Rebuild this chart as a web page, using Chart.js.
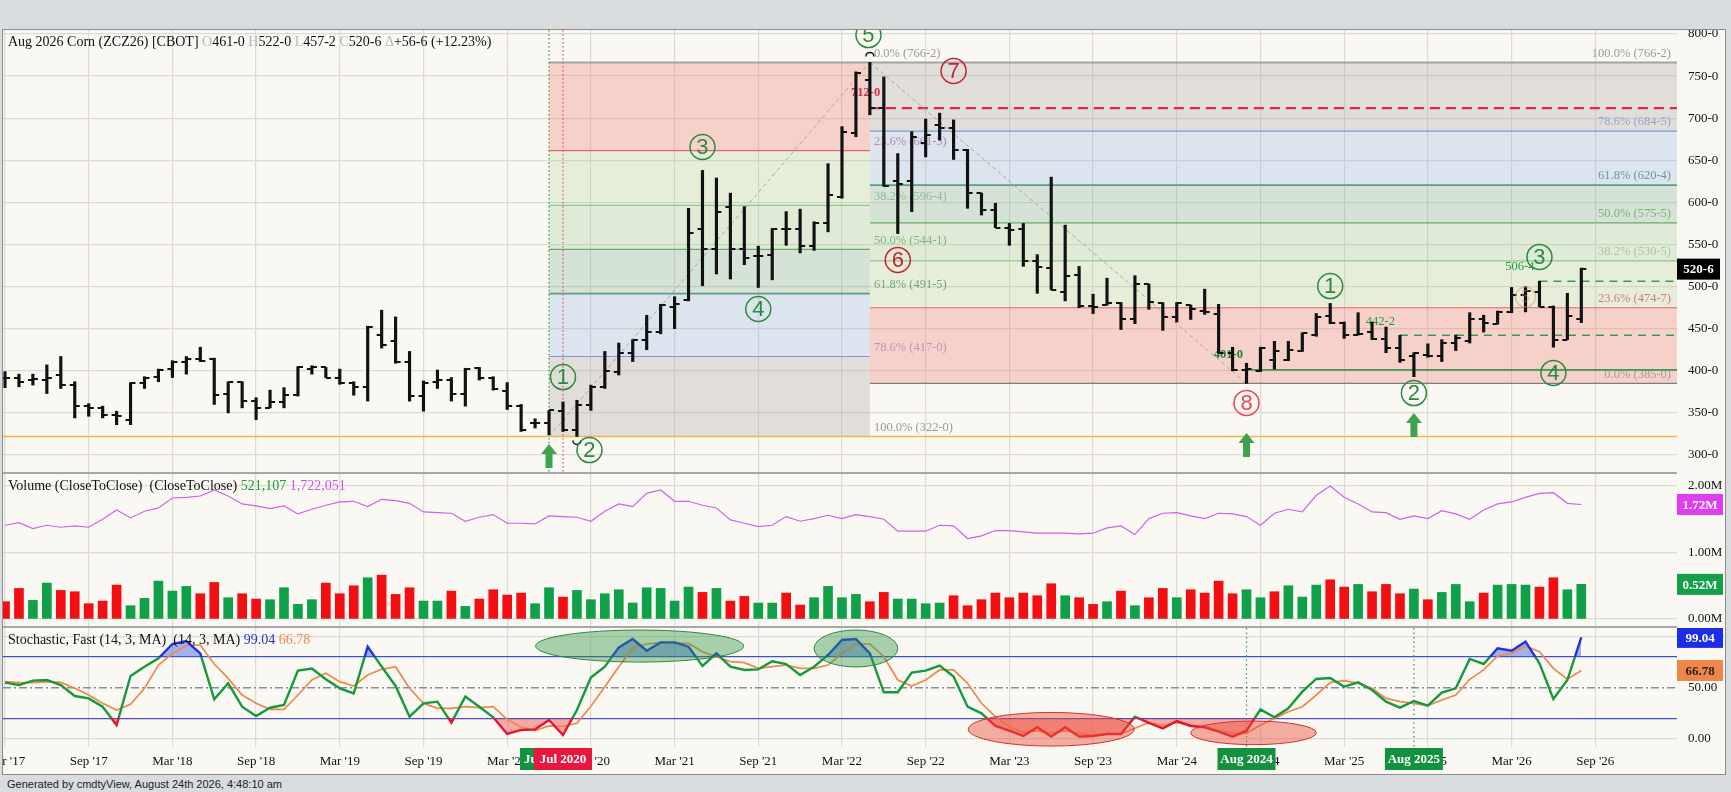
<!DOCTYPE html>
<html>
<head>
<meta charset="utf-8">
<title>ZCZ26 monthly</title>
<script src="https://cdn.jsdelivr.net/npm/chart.js@4.4.1/dist/chart.umd.min.js"></script>
<style>
  html, body { margin: 0; padding: 0; }
  body { width: 1731px; height: 792px; background: #d9dcdf; position: relative; overflow: hidden; font-family: 'Liberation Serif', 'Times New Roman', serif; }
  #frame { position: absolute; left: 2px; top: 29px; width: 1722px; height: 744px; border: 1px solid #8c8c8c; background: #faf8f3; }
  #frame canvas { position: absolute; left: 0; }
  .sep { position: absolute; left: 0; width: 1674px; height: 2px; background: #a8a8a8; }
  .caption { position: absolute; left: 8px; font-size: 14px; line-height: 16px; color: #111; white-space: pre; }
  .dim { color: #b8b8b8; }
  #footer { position: absolute; left: 7px; top: 777px; font: 11px 'Liberation Sans', Arial, sans-serif; color: #222; line-height: 14px; white-space: pre; }
</style>
</head>
<body>
<div id="frame">
  <canvas id="priceChart" width="1722" height="442" style="top:0"></canvas>
  <div class="sep" style="top:442px"></div>
  <canvas id="volChart" width="1722" height="152" style="top:444px"></canvas>
  <div class="sep" style="top:596px"></div>
  <canvas id="stochChart" width="1722" height="146" style="top:598px"></canvas>
</div>
<div class="caption" style="top:34px">Aug 2026 Corn (ZCZ26) [CBOT] <span class="dim">O</span>461-0 <span class="dim">H</span>522-0 <span class="dim">L</span>457-2 <span class="dim">C</span>520-6 <span class="dim">Δ</span>+56-6 (+12.23%)</div>
<div class="caption" style="top:478px">Volume (CloseToClose)  (CloseToClose) <span style="color:#1a9a3a">521,107</span> <span style="color:#cc55ee">1,722,051</span></div>
<div class="caption" style="top:632px">Stochastic, Fast (14, 3, MA)  (14, 3, MA) <span style="color:#2233dd">99.04</span> <span style="color:#f08a4b">66.78</span></div>
<div id="footer">Generated by cmdtyView, August 24th 2026, 4:48:10 am</div>

<script>
// monthly bars, Mar 2017 .. Aug 2026 (index 0 = Mar '17)
const xTickLabels = ["Mar '17", "Sep '17", "Mar '18", "Sep '18", "Mar '19", "Sep '19", "Mar '20", "Sep '20",
  "Mar '21", "Sep '21", "Mar '22", "Sep '22", "Mar '23", "Sep '23", "Mar '24", "Sep '24",
  "Mar '25", "Sep '25", "Mar '26", "Sep '26"];

const opens = [392, 392, 389, 389, 395, 383, 358, 356, 347, 342,
  385, 393, 402, 411, 414, 414, 372, 387, 364, 356,
  363, 371, 402, 404, 392, 385, 381, 443, 435, 410,
  370, 387, 389, 372, 403, 391, 376, 358, 338, 338,
  352, 330, 359, 381, 399, 421, 436, 446, 476, 484,
  569, 545, 595, 545, 536, 538, 568, 568, 548, 575,
  606, 683, 745, 712, 626, 625, 670, 692, 688, 662,
  611, 591, 570, 568, 530, 522, 494, 514, 477, 478,
  480, 462, 503, 481, 464, 478, 471, 468, 421.5, 401,
  400, 413, 413, 424, 442.5, 465, 457, 442.5, 446, 438,
  427, 417, 419, 418, 433, 435, 462, 456, 470, 490,
  494, 476, 437, 461];
const highs = [399, 396, 396, 407, 417, 387, 361, 358, 352, 386,
  393, 402, 412, 417, 428, 415, 387, 387, 368, 377,
  380, 405, 406, 404, 402, 387, 453, 472, 464, 423,
  388, 401, 392, 403, 404, 393, 386, 360, 343, 353,
  363, 365, 383, 423, 433, 437, 466, 479, 488, 593,
  638, 629, 611, 595, 548, 569, 589, 592, 577, 646,
  690, 755, 766.25, 749, 658, 684, 699, 706, 698, 663,
  611, 599, 575, 575, 538, 630, 573, 524, 491, 510,
  481, 513, 503, 481, 481, 478, 497, 479, 428, 409,
  428, 435, 435, 445, 468, 480, 458, 469, 458, 452,
  442.25, 421.5, 432, 437, 442.5, 469, 466, 471, 499, 500,
  506.5, 477, 492, 522];
const lows = [380, 381, 383, 373, 379, 344, 346, 344, 336, 336,
  379, 387, 392, 396, 411, 360, 350, 356, 342, 356,
  356, 370, 396, 392, 384, 371, 364, 427, 409, 364,
  352, 379, 364, 358, 389, 377, 354, 328, 332, 324,
  328, 322, 353, 379, 395, 411, 425, 444, 450, 483,
  501, 515, 509, 526, 499, 508, 549, 540, 543, 565,
  605, 678, 704, 619, 563, 589, 654, 674, 651, 593,
  585, 570, 549, 524, 492, 496, 483, 475, 468, 478,
  449, 456, 473, 448, 458, 461, 467, 421, 400, 385,
  399, 402, 412, 423, 441, 456, 438.5, 442.5, 437, 421.5,
  410, 393, 416, 411, 424, 433, 446, 455.5, 469, 470,
  476, 428, 437, 457.25];
const closes = [391, 387, 390, 392, 383, 358, 356, 347, 346, 385,
  392, 401, 411, 414, 412, 371, 387, 364, 356, 363,
  371, 404, 405, 392, 385, 381, 452, 431, 410, 370,
  386, 389, 372, 402, 391, 378, 358, 330, 338, 353,
  330, 359, 381, 400, 421, 436, 446, 478, 479, 564,
  545, 589, 545, 534, 536, 569, 568, 548, 575, 609,
  684, 754, 712, 620, 622, 678, 680, 688, 662, 611,
  591, 570, 567, 530, 523, 496, 513, 477, 475.5, 480,
  462, 503, 482, 464, 480, 473, 470, 421, 401, 402,
  427, 423.5, 425, 444.5, 464, 457, 442.5, 444, 438, 427,
  413, 421, 417, 433, 438.5, 462, 457, 470, 490, 495,
  476, 437, 465, 520.75];

// millions of contracts
const volume = [0.26, 0.46, 0.28, 0.54, 0.43, 0.41, 0.23, 0.27, 0.51, 0.20,
  0.31, 0.57, 0.42, 0.49, 0.38, 0.55, 0.32, 0.38, 0.30, 0.29,
  0.47, 0.22, 0.29, 0.54, 0.38, 0.50, 0.62, 0.66, 0.37, 0.47,
  0.27, 0.27, 0.42, 0.19, 0.30, 0.44, 0.36, 0.39, 0.23, 0.47,
  0.33, 0.43, 0.29, 0.38, 0.44, 0.24, 0.47, 0.46, 0.27, 0.48,
  0.40, 0.46, 0.27, 0.34, 0.24, 0.24, 0.39, 0.21, 0.32, 0.49,
  0.32, 0.37, 0.26, 0.40, 0.30, 0.30, 0.23, 0.24, 0.35, 0.20,
  0.29, 0.39, 0.32, 0.39, 0.35, 0.53, 0.35, 0.32, 0.22, 0.26,
  0.42, 0.20, 0.32, 0.46, 0.32, 0.44, 0.39, 0.57, 0.38, 0.44,
  0.32, 0.41, 0.50, 0.33, 0.51, 0.59, 0.48, 0.52, 0.41, 0.52,
  0.38, 0.45, 0.29, 0.40, 0.52, 0.26, 0.39, 0.51, 0.52, 0.51,
  0.48, 0.62, 0.44, 0.521];
const openInterest = [1.41, 1.45, 1.36, 1.41, 1.38, 1.40, 1.38, 1.50, 1.64, 1.52,
  1.62, 1.67, 1.82, 1.83, 1.85, 1.94, 1.85, 1.73, 1.70, 1.66,
  1.70, 1.58, 1.65, 1.71, 1.76, 1.77, 1.69, 1.80, 1.78, 1.74,
  1.61, 1.60, 1.59, 1.47, 1.53, 1.57, 1.44, 1.44, 1.43, 1.55,
  1.54, 1.53, 1.47, 1.62, 1.73, 1.69, 1.89, 1.94, 1.77, 1.77,
  1.71, 1.67, 1.49, 1.44, 1.39, 1.41, 1.54, 1.47, 1.51, 1.56,
  1.51, 1.57, 1.54, 1.50, 1.32, 1.32, 1.32, 1.41, 1.40, 1.21,
  1.25, 1.33, 1.33, 1.31, 1.29, 1.29, 1.29, 1.28, 1.29, 1.37,
  1.40, 1.27, 1.51, 1.59, 1.60, 1.55, 1.51, 1.59, 1.58, 1.54,
  1.41, 1.59, 1.65, 1.61, 1.86, 2.00, 1.83, 1.73, 1.61, 1.60,
  1.50, 1.55, 1.51, 1.63, 1.58, 1.50, 1.64, 1.73, 1.76, 1.83,
  1.89, 1.90, 1.74, 1.722];

const stochK = [54.9, 52.6, 56.9, 57.5, 52.6, 41.9, 39.6, 31.5, 13.6, 61.4,
  70.5, 78.6, 92.6, 95.5, 83.5, 38.7, 54.3, 31.5, 22.4, 30.5,
  33.1, 66.6, 68.6, 58.2, 49.4, 44.5, 90.0, 70.5, 51.7, 21.8,
  34.8, 36.4, 15.9, 41.3, 31.5, 21.1, 4.9, 8.8, 9.4, 18.5,
  3.9, 28.3, 60.0, 70.5, 89.3, 97.5, 86.1, 94.2, 94.2, 90.0,
  71.2, 83.5, 70.5, 67.3, 67.9, 75.7, 73.1, 62.4, 70.5, 81.9,
  96.5, 97.5, 83.5, 45.5, 45.5, 64.7, 66.6, 71.5, 60.8, 31.5,
  25.0, 12.7, 8.1, 2.9, 11.4, 2.3, 11.4, 2.3, 2.9, 4.9,
  4.9, 21.8, 15.8, 10.4, 17.5, 12.7, 11.4, 7.1, 2.3, 8.1,
  28.9, 21.1, 29.9, 46.1, 58.5, 59.5, 51.0, 55.2, 47.8, 36.4,
  30.5, 37.0, 32.5, 45.2, 49.4, 78.0, 73.1, 88.4, 86.1, 94.9,
  73.8, 39.0, 57.5, 99.04];
const stochD = [55.9, 54.9, 54.9, 55.9, 55.2, 49.4, 42.9, 34.8, 28.3, 33.8,
  49.4, 72.1, 83.5, 91.0, 91.6, 73.1, 59.1, 42.9, 34.8, 28.9,
  28.9, 42.9, 57.5, 64.0, 55.9, 51.7, 62.4, 67.9, 70.5, 49.4,
  34.8, 29.9, 29.9, 31.5, 30.5, 31.5, 19.2, 11.4, 8.1, 12.7,
  12.4, 15.3, 32.0, 51.0, 70.5, 88.4, 92.6, 93.9, 93.2, 93.2,
  85.1, 80.2, 75.4, 74.4, 68.9, 70.5, 72.1, 68.9, 68.9, 72.1,
  83.5, 92.6, 92.6, 80.2, 57.5, 51.7, 57.5, 67.3, 67.3, 54.3,
  34.8, 21.8, 12.0, 6.2, 8.1, 5.5, 8.1, 5.5, 3.9, 4.9,
  4.9, 10.4, 15.9, 13.6, 15.9, 13.6, 11.4, 8.8, 5.5, 5.5,
  13.6, 20.1, 26.6, 31.5, 42.9, 54.9, 56.9, 54.3, 49.4, 39.6,
  36.4, 34.8, 32.5, 38.0, 42.9, 58.2, 67.3, 80.9, 83.5, 90.6,
  85.1, 68.9, 58.2, 66.78];

// drawing-tool annotations, in bar index / price units
const fibUp = { from: 39, to: 62,
  levels: [766.25, 661.375, 596.5, 544.125, 491.625, 417, 322],
  texts: ['0.0% (766-2)', '23.6% (661-3)', '38.2% (596-4)', '50.0% (544-1)', '61.8% (491-5)', '78.6% (417-0)', '100.0% (322-0)'] };
const fibDown = { from: 62, to: null,
  levels: [766.25, 684.625, 620.5, 575.625, 530.625, 474.875, 385],
  texts: ['100.0% (766-2)', '78.6% (684-5)', '61.8% (620-4)', '50.0% (575-5)', '38.2% (530-5)', '23.6% (474-7)', '0.0% (385-0)'] };
const waveMarks = [
  { i: 40, p: 392.6, t: '1', k: 'g' }, { i: 41.9, p: 305.9, t: '2', k: 'g' }, { i: 50, p: 665.8, t: '3', k: 'g' },
  { i: 54, p: 473.4, t: '4', k: 'g' }, { i: 61.9, p: 798.8, t: '5', k: 'g' }, { i: 64, p: 531.6, t: '6', k: 'r' },
  { i: 68, p: 756.1, t: '7', k: 'r' }, { i: 89, p: 361.8, t: '8', k: 'p' }, { i: 95, p: 500.7, t: '1', k: 'g' },
  { i: 101, p: 373.6, t: '2', k: 'g' }, { i: 110, p: 535.2, t: '3', k: 'g' }, { i: 111, p: 397.4, t: '4', k: 'g' },
  { i: 109, p: 487.6, t: '5', k: 'o' }];
const upArrows = [{ i: 39, p: 313 }, { i: 89, p: 326 }, { i: 101, p: 350 }];
const levelLines = [
  { p: 322, from: null, color: '#f4b44e', w: 1.6 },
  { p: 712, from: 62, color: '#e0284a', w: 2.2, dash: [10, 6] },
  { p: 401, from: 89, color: '#3f9a52', w: 1.8 },
  { p: 442.25, from: 100, color: '#3a9a4a', w: 1.5, dash: [8, 6] },
  { p: 506.5, from: 110, color: '#3a9a4a', w: 1.5, dash: [8, 6] }];
const levelTexts = [
  { i: 61.7, p: 730, t: '712-0', color: '#e0284a', bold: true },
  { i: 87.7, p: 418.8, t: '401-0', color: '#1f7f35', bold: true },
  { i: 98.6, p: 458, t: '442-2', color: '#1a9a3a' },
  { i: 108.6, p: 523.3, t: '506-4', color: '#1a9a3a' }];
const swingLegs = [[39, 322, 62, 766.25], [62, 766.25, 89, 385]];
const dateFlags = [
  { i: 39, t: 'Jun 2020', color: '#12913f' }, { i: 40, t: 'Jul 2020', color: '#e8173f' },
  { i: 89, t: 'Aug 2024', color: '#12913f' }, { i: 101, t: 'Aug 2025', color: '#12913f' }];
const stochOvals = [
  { i: 45.5, v: 90.6, ri: 7.46, rv: 15.6, k: 'g' }, { i: 61.0, v: 88.2, ri: 3.0, rv: 18.0, k: 'g' },
  { i: 75.0, v: 9.5, ri: 5.95, rv: 16.4, k: 'r' }, { i: 89.5, v: 6.0, ri: 4.5, rv: 11.5, k: 'r' }];

// ---- styling ----
const GRID = '#dedbd5';
const X_MIN = -0.1434, X_MAX = 119.86;
const PINK = 'rgba(235,120,110,0.30)', LGREEN = 'rgba(150,200,120,0.20)', LGREEN2 = 'rgba(140,195,120,0.24)',
  TEAL = 'rgba(90,160,120,0.23)', BLUE = 'rgba(140,175,220,0.27)', GRAY = 'rgba(170,160,158,0.30)';
const fibUpStyle = {
  fills: [PINK, LGREEN, LGREEN2, TEAL, BLUE, GRAY],
  lines: ['#a4a4a4', '#e06868', '#92c490', '#6aaa6a', '#5e9c8c', '#7c98e2', null],
  widths: [2, 1.2, 1.2, 1.2, 1.6, 1.2, 1],
  labels: ['#9a9a9a', '#c87a95', '#a4c4a0', '#7fb07f', '#6a9a8a', '#a2a6d6', '#9a9a9a'],
  labelAlign: 'left' };
const fibDownStyle = {
  fills: [GRAY, BLUE, TEAL, LGREEN2, LGREEN, PINK],
  lines: ['#a4a4a4', '#7c98e2', '#5e9c8c', '#6aaa6a', '#92c490', '#e06868', '#7d7d7d'],
  widths: [2, 1.2, 1.6, 1.2, 1.2, 1.2, 1.2],
  labels: ['#9a9a9a', '#90a6d4', '#6a9a9a', '#7fb07f', '#a8c8a0', '#d47a7a', '#a0a0a0'],
  labelAlign: 'right' };
const WAVE_COLORS = { g: '#2b8a3e', r: '#c8232c', p: '#e8455a', o: 'rgba(225,140,100,0.45)' };

Chart.defaults.font.family = "'Liberation Serif', 'Times New Roman', serif";
Chart.defaults.font.size = 13;
Chart.defaults.color = '#111';

const px = (ch, i) => ch.scales.x.getPixelForValue(i);
const py = (ch, v) => ch.scales.y.getPixelForValue(v);

function xAxis(showLabels) {
  return {
    type: 'linear', min: X_MIN, max: X_MAX, offset: false,
    grid: { color: GRID, lineWidth: 1.2, drawTicks: false, offset: false },
    border: { display: false },
    ticks: { display: showLabels, autoSkip: false, maxRotation: 0, padding: 7, color: '#111',
      callback: v => xTickLabels[Math.round(v / 6)] || '' },
    afterBuildTicks: s => { s.ticks = xTickLabels.map((_, k) => ({ value: k * 6 })); },
    afterFit: s => {
      s.height = showLabels ? 27 : 0;
      // let the first/last labels run off the edge instead of squeezing the plot
      s.paddingLeft = 0; s.paddingRight = 0;
    }
  };
}
function yAxis(min, max, ticks, fmt, gridColor) {
  return {
    position: 'right', min: min, max: max,
    grid: { color: gridColor || GRID, lineWidth: 1.2, drawTicks: false },
    border: { display: false },
    ticks: { padding: 11, color: '#111', callback: fmt },
    afterBuildTicks: s => { s.ticks = ticks.map(v => ({ value: v })); },
    afterFit: s => { s.width = 48; s.paddingTop = 0; s.paddingBottom = 0; }
  };
}
const baseOpts = {
  responsive: false, animation: false, devicePixelRatio: 1,
  layout: { padding: 0, autoPadding: false },
  plugins: { legend: { display: false }, tooltip: { enabled: false } },
  events: []
};

function valueBox(ch, v, text, bg, fg, w) {
  const { ctx, chartArea: a } = ch;
  const y = py(ch, v);
  ctx.save();
  ctx.fillStyle = bg;
  ctx.fillRect(a.right, y - 10.5, w, 21);
  ctx.fillStyle = fg;
  ctx.font = "bold 13px 'Liberation Serif'";
  ctx.textAlign = 'center'; ctx.textBaseline = 'middle';
  ctx.fillText(text, a.right + w / 2, y + 1);
  ctx.restore();
}

function drawFib(ch, fib, st) {
  const { ctx, chartArea: a } = ch;
  const x0 = px(ch, fib.from), x1 = fib.to == null ? a.right : px(ch, fib.to);
  for (let k = 0; k < fib.levels.length - 1; k++) {
    const y0 = py(ch, fib.levels[k]), y1 = py(ch, fib.levels[k + 1]);
    ctx.fillStyle = st.fills[k];
    ctx.fillRect(x0, Math.min(y0, y1), x1 - x0, Math.abs(y1 - y0));
  }
  fib.levels.forEach((lv, k) => {
    if (!st.lines[k]) return;
    const y = py(ch, lv);
    ctx.strokeStyle = st.lines[k]; ctx.lineWidth = st.widths[k];
    ctx.beginPath(); ctx.moveTo(x0, y); ctx.lineTo(x1, y); ctx.stroke();
  });
  ctx.font = "12.5px 'Liberation Serif'";
  ctx.textBaseline = 'middle';
  ctx.textAlign = st.labelAlign;
  const lx = st.labelAlign === 'left' ? x1 + 4 : x1 - 6;
  fib.texts.forEach((t, k) => {
    ctx.fillStyle = st.labels[k];
    ctx.fillText(t, lx, py(ch, fib.levels[k]) - 9);
  });
}

const priceDecor = {
  id: 'priceDecor',
  beforeDatasetsDraw(ch) {
    const { ctx, chartArea: a } = ch;
    ctx.save();
    ctx.beginPath(); ctx.rect(a.left, a.top, a.width, a.height); ctx.clip();
    drawFib(ch, fibUp, fibUpStyle);
    drawFib(ch, fibDown, fibDownStyle);
    levelLines.forEach(l => {
      const y = py(ch, l.p);
      ctx.strokeStyle = l.color; ctx.lineWidth = l.w;
      ctx.setLineDash(l.dash || []);
      ctx.beginPath(); ctx.moveTo(l.from == null ? a.left : px(ch, l.from), y); ctx.lineTo(a.right, y); ctx.stroke();
    });
    ctx.strokeStyle = '#a8a8a8'; ctx.lineWidth = 1; ctx.setLineDash([4, 3]);
    swingLegs.forEach(s => {
      ctx.beginPath(); ctx.moveTo(px(ch, s[0]), py(ch, s[1])); ctx.lineTo(px(ch, s[2]), py(ch, s[3])); ctx.stroke();
    });
    ctx.lineWidth = 1.2; ctx.setLineDash([1.5, 2.5]);
    [[39, '#2a9a3a'], [40, '#e04858']].forEach(m => {
      const x = px(ch, m[0]);
      ctx.strokeStyle = m[1];
      ctx.beginPath(); ctx.moveTo(x, a.top); ctx.lineTo(x, a.bottom); ctx.stroke();
    });
    ctx.setLineDash([]);
    levelTexts.forEach(t => {
      ctx.font = (t.bold ? 'bold ' : '') + "12.5px 'Liberation Serif'";
      ctx.fillStyle = t.color; ctx.textAlign = 'center'; ctx.textBaseline = 'middle';
      ctx.fillText(t.t, px(ch, t.i), py(ch, t.p));
    });
    ctx.restore();
  },
  afterDatasetsDraw(ch) {
    const { ctx } = ch;
    ctx.save();
    // swing markers
    ctx.strokeStyle = '#111'; ctx.lineWidth = 1.5;
    ctx.beginPath(); ctx.arc(px(ch, 62), py(ch, 766.25) - 6, 4, Math.PI, 2 * Math.PI); ctx.stroke();
    ctx.beginPath(); ctx.arc(px(ch, 41), py(ch, 322) + 4, 4, 0, Math.PI); ctx.stroke();
    waveMarks.forEach(w => {
      const x = px(ch, w.i), y = py(ch, w.p), r = w.k === 'o' ? 10 : 12.5;
      const c = WAVE_COLORS[w.k];
      ctx.beginPath(); ctx.arc(x, y, r, 0, Math.PI * 2);
      ctx.lineWidth = 1.5; ctx.strokeStyle = c; ctx.stroke();
      ctx.fillStyle = c;
      ctx.font = (w.k === 'o' ? 16 : 22) + "px 'Liberation Sans'";
      ctx.textAlign = 'center'; ctx.textBaseline = 'middle';
      ctx.fillText(w.t, x, y + 1);
    });
    ctx.fillStyle = '#3ea34e';
    upArrows.forEach(u => {
      const x = px(ch, u.i), y = py(ch, u.p);
      ctx.beginPath();
      ctx.moveTo(x, y); ctx.lineTo(x + 8, y + 10); ctx.lineTo(x + 3.5, y + 10); ctx.lineTo(x + 3.5, y + 24);
      ctx.lineTo(x - 3.5, y + 24); ctx.lineTo(x - 3.5, y + 10); ctx.lineTo(x - 8, y + 10); ctx.closePath();
      ctx.fill();
    });
    ctx.restore();
  },
  afterDraw(ch) {
    valueBox(ch, closes[closes.length - 1], '520-6', '#000', '#fff', 43);
  }
};

function tickImage(side) {
  const c = document.createElement('canvas');
  c.width = 12; c.height = 2;
  const g = c.getContext('2d');
  g.fillStyle = '#111';
  g.fillRect(side === 'l' ? 1 : 6, 0, 5, 2);
  return c;
}

new Chart(document.getElementById('priceChart'), {
  type: 'bar',
  data: {
    datasets: [
      { type: 'scatter', data: opens.map((o, i) => ({ x: i, y: o })), pointStyle: tickImage('l'), order: 1 },
      { type: 'scatter', data: closes.map((c, i) => ({ x: i, y: c })), pointStyle: tickImage('r'), order: 1 },
      { type: 'bar', data: highs.map((h, i) => ({ x: i, y: [lows[i], h] })), backgroundColor: '#111',
        barThickness: 2.5, order: 2 }
    ]
  },
  options: Object.assign({}, baseOpts, {
    scales: {
      x: xAxis(false),
      y: yAxis(279.81, 804.75, [300, 350, 400, 450, 500, 550, 600, 650, 700, 750, 800], v => v + '-0')
    }
  }),
  plugins: [priceDecor]
});

const volDecor = {
  id: 'volDecor',
  afterDraw(ch) {
    valueBox(ch, openInterest[openInterest.length - 1], '1.72M', '#e03cf0', '#fff', 46);
    valueBox(ch, volume[volume.length - 1], '0.52M', '#14a04a', '#fff', 46);
  }
};

new Chart(document.getElementById('volChart'), {
  type: 'bar',
  data: {
    datasets: [
      { type: 'line', data: openInterest.map((v, i) => ({ x: i, y: v })), borderColor: '#d062e6',
        borderWidth: 1.2, pointRadius: 0, tension: 0, order: 1 },
      { type: 'bar', data: volume.map((v, i) => ({ x: i, y: v })), barThickness: 9, order: 2,
        backgroundColor: volume.map((_, i) => (i > 0 && closes[i] > closes[i - 1]) ? '#10a04a' : '#f20f12') }
    ]
  },
  options: Object.assign({}, baseOpts, {
    scales: {
      x: xAxis(false),
      y: yAxis(-0.1053, 2.1805, [0, 1, 2], v => v.toFixed(2) + 'M')
    }
  }),
  plugins: [volDecor]
});

function kGradient(c) {
  const ch = c.chart, a = ch.chartArea;
  if (!a) return '#16993c';
  const y80 = (py(ch, 80) - a.top) / a.height, y20 = (py(ch, 20) - a.top) / a.height;
  const g = ch.ctx.createLinearGradient(0, a.top, 0, a.bottom);
  g.addColorStop(0, '#1d33e0'); g.addColorStop(y80, '#1d33e0');
  g.addColorStop(y80, '#16993c'); g.addColorStop(y20, '#16993c');
  g.addColorStop(y20, '#e5142e'); g.addColorStop(1, '#e5142e');
  return g;
}

const stochDecor = {
  id: 'stochDecor',
  beforeDatasetsDraw(ch) {
    const { ctx, chartArea: a } = ch;
    ctx.save();
    const y = py(ch, 50);
    ctx.strokeStyle = '#8b8b9a'; ctx.lineWidth = 1.5; ctx.setLineDash([8, 3, 2, 3]);
    ctx.beginPath(); ctx.moveTo(a.left, y); ctx.lineTo(a.right, y); ctx.stroke();
    ctx.strokeStyle = '#3a9a4a'; ctx.lineWidth = 1.2; ctx.setLineDash([1.5, 3]);
    [89, 101].forEach(i => {
      const x = px(ch, i);
      ctx.beginPath(); ctx.moveTo(x, a.top); ctx.lineTo(x, a.bottom); ctx.stroke();
    });
    ctx.restore();
  },
  afterDatasetsDraw(ch) {
    const { ctx } = ch;
    ctx.save();
    stochOvals.forEach(o => {
      const x = px(ch, o.i), y = py(ch, o.v);
      const rx = Math.abs(px(ch, o.i + o.ri) - x), ry = Math.abs(py(ch, o.v + o.rv) - y);
      ctx.beginPath(); ctx.ellipse(x, y, rx, ry, 0, 0, Math.PI * 2);
      ctx.fillStyle = o.k === 'g' ? 'rgba(50,150,70,0.42)' : 'rgba(232,80,60,0.45)';
      ctx.fill();
      ctx.lineWidth = 1; ctx.strokeStyle = o.k === 'g' ? '#2d8a45' : '#d43030';
      ctx.stroke();
    });
    ctx.restore();
  },
  afterDraw(ch) {
    const { ctx, chartArea: a } = ch;
    ctx.save();
    ctx.font = "bold 13px 'Liberation Serif'";
    ctx.textAlign = 'center'; ctx.textBaseline = 'middle';
    dateFlags.forEach(f => {
      const x = px(ch, f.i);
      ctx.fillStyle = f.color;
      ctx.fillRect(x - 29, a.bottom + 1, 58, 22);
      ctx.fillStyle = '#fff';
      ctx.fillText(f.t, x, a.bottom + 12.5);
    });
    ctx.restore();
    valueBox(ch, stochK[stochK.length - 1], '99.04', '#1b2de6', '#fff', 46);
    valueBox(ch, stochD[stochD.length - 1], '66.78', '#f0874a', '#222', 46);
  }
};

const kPoints = stochK.map((v, i) => ({ x: i, y: v }));
new Chart(document.getElementById('stochChart'), {
  type: 'line',
  data: {
    datasets: [
      { data: kPoints, borderColor: kGradient, borderWidth: 2.4, pointRadius: 0, tension: 0, fill: false, order: 1 },
      { data: stochD.map((v, i) => ({ x: i, y: v })), borderColor: '#f0874b', borderWidth: 1.7, pointRadius: 0,
        tension: 0, fill: false, order: 2 },
      { data: kPoints, borderWidth: 0, pointRadius: 0, tension: 0, order: 3,
        fill: { target: { value: 80 }, above: 'rgba(60,90,230,0.45)', below: 'rgba(0,0,0,0)' } },
      { data: kPoints, borderWidth: 0, pointRadius: 0, tension: 0, order: 3,
        fill: { target: { value: 20 }, above: 'rgba(0,0,0,0)', below: 'rgba(240,70,70,0.45)' } }
    ]
  },
  options: Object.assign({}, baseOpts, {
    scales: {
      x: xAxis(true),
      y: yAxis(-7.80, 108.19, [0, 20, 50, 80, 100], v => (v === 0 || v === 50 || v === 100) ? v.toFixed(2) : '',
        c => {
          const v = c.tick && c.tick.value;
          if (v === 20 || v === 80) return '#4050c8';
          if (v === 50) return 'rgba(0,0,0,0)';
          return GRID;
        })
    }
  }),
  plugins: [stochDecor]
});
</script>
</body>
</html>
